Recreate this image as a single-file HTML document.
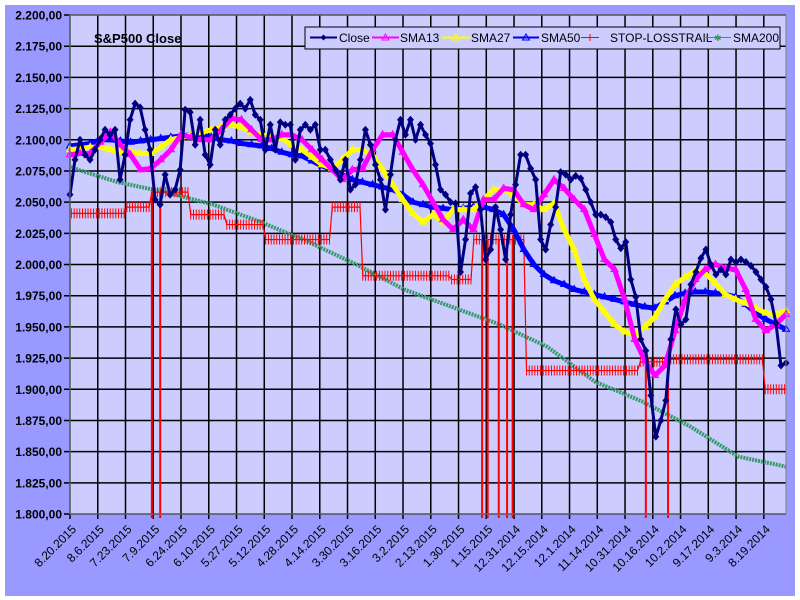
<!DOCTYPE html>
<html><head><meta charset="utf-8"><style>
html,body{margin:0;padding:0;background:#fff;}
svg{display:block;font-family:"Liberation Sans",Arial,sans-serif;}
</style></head><body>
<svg id="chart" width="800" height="600" viewBox="0 0 800 600" xmlns="http://www.w3.org/2000/svg">
<rect x="5" y="5" width="790" height="591" fill="#9999FF"/>
<rect x="70" y="15" width="716" height="499" fill="#CCCCFF"/>
<g id="grid"></g>
<g id="series"></g>
<rect x="70" y="15" width="716" height="499" fill="none" stroke="#808080" stroke-width="1"/>
<text x="94" y="43" font-size="13" font-weight="bold" fill="#000">S&amp;P500 Close</text>
<g>
<rect x="305" y="27" width="475" height="22" fill="#CCCCFF" stroke="#000" stroke-width="1"/>
<g><line x1="310" y1="37.5" x2="337" y2="37.5" stroke="#000080" stroke-width="2"/><path d="M323.5 34.5 L326.5 37.5 L323.5 40.5 L320.5 37.5Z" fill="#000080"/><text x="339" y="42" font-size="12">Close</text></g>
<g><line x1="372" y1="37.5" x2="399" y2="37.5" stroke="#FF00FF" stroke-width="2"/><path d="M385.5 34 L389 40 L382 40Z" fill="none" stroke="#FF00FF"/><text x="400" y="42" font-size="12">SMA13</text></g>
<g><line x1="442" y1="37.5" x2="470" y2="37.5" stroke="#FFFF00" stroke-width="2"/><path d="M456 34 L459.5 40 L452.5 40Z" fill="none" stroke="#FFFF00"/><text x="471" y="42" font-size="12">SMA27</text></g>
<g><line x1="513" y1="37.5" x2="539" y2="37.5" stroke="#0000FF" stroke-width="2"/><path d="M526 34 L529.5 40 L522.5 40Z" fill="none" stroke="#0000FF"/><text x="541" y="42" font-size="12">SMA50</text></g>
<g><line x1="581" y1="37.5" x2="599" y2="37.5" stroke="#FF0000" stroke-width="1"/><line x1="590" y1="34" x2="590" y2="41" stroke="#FF0000"/><text x="610" y="42" font-size="12">STOP-LOSSTRAIL</text></g>
<g><line x1="704" y1="37.5" x2="731" y2="37.5" stroke="#339966" stroke-width="1"/><text x="714" y="41" font-size="9" fill="#339966">✱</text><text x="733" y="42" font-size="12">SMA200</text></g>
</g>
<g id="axes"></g>
</svg>
<script>
const yTicks=[1800,1825,1850,1875,1900,1925,1950,1975,2000,2025,2050,2075,2100,2125,2150,2175,2200];
const xLabels=["8.20.2015","8.6.2015","7.23.2015","7.9.2015","6.24.2015","6.10.2015","5.27.2015","5.12.2015","4.28.2015","4.14.2015","3.30.2015","3.16.2015","3.2.2015","2.13.2015","1.30.2015","1.15.2015","12.31.2014","12.15.2014","12.1.2014","11.14.2014","10.31.2014","10.16.2014","10.2.2014","9.17.2014","9.3.2014","8.19.2014"];
const closeVals=[2056,2084,2100,2088,2084,2092,2100,2108,2104,2108,2068,2088,2116,2129,2126,2108,2092,2052,2048,2072,2056,2060,2076,2124,2122,2096,2116,2088,2080,2108,2096,2116,2120,2125,2129,2125,2132,2120,2116,2092,2112,2092,2114,2112,2112,2084,2108,2112,2108,2112,2092,2092,2084,2076,2068,2084,2060,2064,2084,2108,2096,2080,2068,2044,2072,2100,2116,2104,2116,2100,2112,2104,
2097,2080,2060,2056,2050,2049,1994,2020,2057,2062,2044,2004,2012,2046,2028,2004,2040,2064,2088,2088,2077,2068,2020,2012,2032,2046,2074,2072,2068,2071,2069,2060,2050,2040,2040,2038,2034,2020,2013,2018,1988,1974,1940,1931,1895,1862,1875,1891,1940,1964,1952,1956,1984,1994,2005,2012,2000,1992,1996,1992,2004,2002,2004,2002,1999,1994,1988,1982,1972,1953,1919,1921];
const sma13Vals=[2088,2089,2089,2098,2106,2096,2088,2076,2077,2084,2092,2104,2102,2100,2100,2108,2117,2116,2108,2100,2100,2104,2104,2100,2092,2084,2076,2068,2076,2077,2092,2104,2104,2090,2076,2064,2050,2036,2028,2036,2028,2052,2052,2061,2060,2048,2044,2056,2068,2061,2052,2044,2024,2004,1996,1972,1940,1923,1911,1919,1947,1972,1988,1996,2000,1997,1996,1980,1956,1947,1952,1960];
const sma27Vals=[2092,2093,2094,2094,2092,2090,2090,2089,2089,2094,2100,2102,2104,2106,2108,2110,2112,2110,2106,2104,2102,2101,2096,2092,2086,2080,2077,2084,2092,2092,2088,2076,2064,2052,2041,2034,2040,2034,2044,2044,2044,2052,2060,2060,2056,2048,2048,2044,2049,2028,2012,1988,1972,1962,1952,1946,1944,1950,1958,1972,1984,1990,1995,1993,1985,1976,1972,1969,1965,1961,1960,1963];
const sma50Vals=[2095,2096,2097,2100,2100,2099,2098,2099,2100,2101,2102,2103,2104,2104,2102,2100,2099,2097,2096,2095,2093,2090,2088,2087,2083,2079,2076,2072,2068,2066,2064,2062,2060,2056,2050,2048,2046,2045,2044,2045,2046,2046,2044,2040,2028,2012,2000,1992,1987,1984,1980,1978,1976,1974,1972,1970,1968,1966,1965,1970,1975,1977,1978,1978,1977,1976,1974,1968,1961,1956,1952,1948];
const sma200Vals=[2078,2066,2058,2048,2034,2018,2000,1980,1966,1952,1934,1906,1890,1870,1846,1838];
const stopLevels=[2041,2046,2058,2040,2032,2020,2046,1991,1988,2020,1915,1922,1924,1900];
const stopStartDay=[0,20,29,43,56,70,94,105,137,145,164,205,215,250];
const stopDropDays=[29,32,148,150,154,157,159,207,215];
const DAYS=258;

const NS="http://www.w3.org/2000/svg";
const PX0=70,PX1=786,PY0=15,PY1=514;
function yS(v){return PY1-(v-1800)/400*(PY1-PY0);}
function xFrac(f){return PX0+f*(PX1-PX0);}
function xDay(d){return PX0+(d+0.5)*(PX1-PX0)/DAYS;}
function mk(tag,attrs,parent){const e=document.createElementNS(NS,tag);for(const k in attrs)e.setAttribute(k,attrs[k]);parent.appendChild(e);return e;}
const grid=document.getElementById('grid'),ser=document.getElementById('series'),axes=document.getElementById('axes');

yTicks.forEach(v=>{
  const y=yS(v);
  const l=mk('line',{x1:PX0-6,x2:PX1,y1:y,y2:y,stroke:'#000','stroke-width':1.5},grid);
  
  
  const t=mk('text',{x:62,y:y+4.5,'text-anchor':'end','font-size':12,'font-weight':'bold'},axes);
  t.textContent=v.toLocaleString('en-US').replace(',','.')+',00';
  
  
});
xLabels.forEach((s,i)=>{
  const x=PX0+i*10*(PX1-PX0)/DAYS;
  const l=mk('line',{x1:x,x2:x,y1:PY0,y2:PY1+5,stroke:'#000','stroke-width':1.5},grid);
  
  
  const t=mk('text',{x:x+7,y:PY1+16,'text-anchor':'end','font-size':12,transform:`rotate(-45 ${x+7} ${PY1+16})`},axes);
  t.textContent=s;
  
  
});

function pts(arr){return arr.map((v,i)=>[xFrac(i/(arr.length-1)),yS(v)]);}
function line(arr,color,w,name){
  const p=mk('polyline',{points:pts(arr).map(q=>q.join(',')).join(' '),fill:'none',stroke:color,'stroke-width':w,'stroke-linejoin':'round'},ser);
  
  
  return p;
}
line(sma200Vals,'#339966',4,'sma200-line').setAttribute('stroke-dasharray','2 1');
let d='';
stopLevels.forEach((lv,k)=>{
  const s=stopStartDay[k],e=(k+1<stopStartDay.length?stopStartDay[k+1]:DAYS);
  const y=yS(lv);
  d+=(k===0?'M':'L')+xDay(s)+' '+y+' L'+xDay(e-1)+' '+y+' ';
});
const sp=mk('path',{d:d,fill:'none',stroke:'#FF0000','stroke-width':1.2},ser);


stopLevels.forEach((lv,k)=>{
  const s=stopStartDay[k],e=(k+1<stopStartDay.length?stopStartDay[k+1]:DAYS);
  for(let dd=s;dd<e;dd++){
    const tk=mk('line',{x1:xDay(dd),x2:xDay(dd),y1:yS(lv)-5,y2:yS(lv)+5,stroke:'#FF0000','stroke-width':1},ser);
    
    
  }
});
stopDropDays.forEach(dd=>{
  let lv=stopLevels[0];
  stopStartDay.forEach((s,k)=>{if(dd>=s)lv=stopLevels[k];});
  const dl=mk('line',{x1:xDay(dd),x2:xDay(dd),y1:yS(lv),y2:PY1+4,stroke:'#FF0000','stroke-width':2},ser);
  
  
});
function tri(arr,color,name){
  line(arr,color,5,name+'-line');
  pts(arr).forEach(([x,y])=>{
    const m=mk('path',{d:`M${x} ${y-4} L${x+3.5} ${y+2} L${x-3.5} ${y+2}Z`,fill:'none',stroke:color,'stroke-width':1},ser);
    
    
  });
}
tri(sma50Vals,'#0000FF','sma50');
tri(sma27Vals,'#FFFF00','sma27');
tri(sma13Vals,'#FF00FF','sma13');
line(closeVals,'#000080',3,'close-line');
pts(closeVals).forEach(([x,y])=>{
  const m=mk('path',{d:`M${x} ${y-4} L${x+3.5} ${y} L${x} ${y+4} L${x-3.5} ${y}Z`,fill:'#000080'},ser);
  
  
});
</script>
</body></html>
